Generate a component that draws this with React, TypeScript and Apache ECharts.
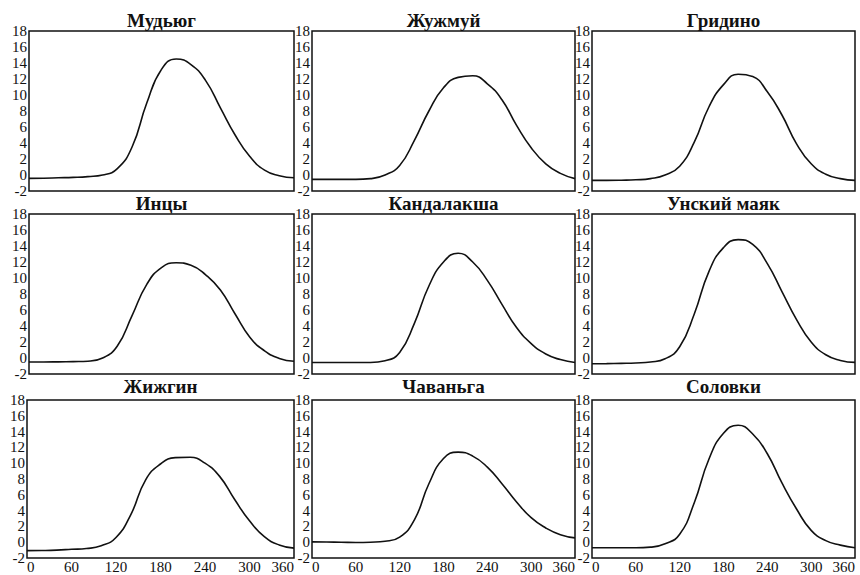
import React, { useEffect, useRef } from "react";
import * as echarts from "echarts";

const days = [0, 20, 40, 60, 80, 100, 120, 140, 160, 180, 200, 220, 240, 260, 280, 300, 320, 340, 360];

const stations = ["Мудьюг", "Жужмуй", "Гридино", "Инцы", "Кандалакша", "Унский маяк", "Жижгин", "Чаваньга", "Соловки"];

const mudyug = [-0.42, -0.4, -0.35, -0.3, -0.2, 0.0, 0.8, 3.5, 9.0, 13.2, 14.5, 13.8, 11.8, 8.4, 5.0, 2.3, 0.6, -0.1, -0.35];
const zhuzhmuy = [-0.55, -0.55, -0.55, -0.55, -0.45, 0.0, 1.2, 4.3, 8.0, 10.9, 12.2, 12.4, 11.4, 9.4, 6.2, 3.4, 1.4, 0.2, -0.45];
const gridino = [-0.67, -0.67, -0.65, -0.6, -0.45, 0.0, 1.1, 4.1, 8.5, 11.3, 12.6, 12.3, 10.4, 7.5, 3.9, 1.4, 0.1, -0.45, -0.67];
const intsy = [-0.5, -0.5, -0.48, -0.45, -0.4, 0.0, 1.5, 5.3, 9.2, 11.3, 11.9, 11.6, 10.4, 8.5, 5.5, 2.6, 0.9, -0.05, -0.4];
const kandalaksha = [-0.57, -0.57, -0.57, -0.57, -0.57, -0.35, 0.7, 4.3, 9.0, 12.0, 13.1, 12.0, 9.7, 6.7, 3.8, 1.8, 0.5, -0.2, -0.57];
const unskyMayak = [-0.72, -0.7, -0.67, -0.62, -0.5, -0.1, 1.4, 5.5, 10.8, 13.8, 14.8, 14.2, 11.8, 8.3, 4.8, 2.0, 0.4, -0.3, -0.55];
const zhizhgin = [-1.07, -1.05, -1.0, -0.9, -0.8, -0.45, 0.6, 3.5, 7.9, 9.9, 10.7, 10.75, 10.0, 8.3, 5.4, 2.7, 0.7, -0.35, -0.75];
const chavanga = [0.04, 0.02, 0.0, -0.04, 0.0, 0.12, 0.65, 2.8, 7.4, 10.6, 11.4, 10.9, 9.5, 7.4, 5.1, 3.1, 1.8, 0.95, 0.55];
const solovki = [-0.71, -0.71, -0.71, -0.71, -0.62, -0.2, 1.0, 5.0, 10.5, 13.8, 14.8, 13.7, 11.2, 7.5, 4.2, 1.5, 0.2, -0.37, -0.71];

const seriesValues = [mudyug, zhuzhmuy, gridino, intsy, kandalaksha, unskyMayak, zhizhgin, chavanga, solovki];

const xTicks = { min: 0, max: 360, interval: 60 };
const yTicks = { min: -2, max: 18, interval: 2 };

const FONT = "'Times New Roman', 'Liberation Serif', 'DejaVu Serif', serif";

const colLeft = [29, 312, 592];
const colWidth = [265, 263, 263];
const rowTop = [31, 214, 400];
const rowHeight = [160, 160, 158];
const titleSize = 19;
const titleCenterY = [20, 203, 386];

export default function App() {
  const ref = useRef<HTMLDivElement>(null);

  useEffect(() => {
    if (!ref.current) return;
    const chart = echarts.init(ref.current, null, { renderer: "svg" });

    const grids: any[] = [];
    const xAxes: any[] = [];
    const yAxes: any[] = [];
    const series: any[] = [];
    const titles: any[] = [];

    stations.forEach((name, i) => {
      const r = Math.floor(i / 3);
      const c = i % 3;
      let left = colLeft[c];
      let width = colWidth[c];
      if (r === 2 && c === 0) {
        left = 27;
        width = 267;
      }
      grids.push({
        left,
        top: rowTop[r],
        width,
        height: rowHeight[r],
        show: true,
        borderColor: "#111",
        borderWidth: 1.5,
        backgroundColor: "transparent",
        containLabel: false,
      });
      xAxes.push({
        type: "value",
        gridIndex: i,
        min: xTicks.min,
        max: xTicks.max,
        interval: xTicks.interval,
        axisLine: { show: false },
        axisTick: { show: false },
        splitLine: { show: false },
        axisLabel: {
          show: r === 2,
          color: "#111",
          fontFamily: FONT,
          fontSize: 15,
          margin: 1,
          showMinLabel: true,
          showMaxLabel: true,
          hideOverlap: false,
          alignMaxLabel: "right",
          alignMinLabel: "left",
        },
      });
      yAxes.push({
        type: "value",
        gridIndex: i,
        min: yTicks.min,
        max: yTicks.max,
        interval: yTicks.interval,
        axisLine: { show: false },
        axisTick: { show: false },
        splitLine: { show: false },
        axisLabel: {
          color: "#111",
          fontFamily: FONT,
          fontSize: 15,
          margin: 2,
          showMinLabel: true,
          showMaxLabel: true,
          hideOverlap: false,
          formatter: (v: number) => String(v),
        },
      });
      series.push({
        type: "line",
        name,
        xAxisIndex: i,
        yAxisIndex: i,
        data: days.map((d, k) => [d, seriesValues[i][k]]),
        smooth: 0.5,
        showSymbol: false,
        symbol: "none",
        lineStyle: { color: "#111", width: 1.6 },
      });
      titles.push({
        text: name,
        left: left + width / 2,
        top: titleCenterY[r] - titleSize / 2,
        padding: 0,
        textAlign: "center",
        textStyle: {
          fontFamily: FONT,
          fontSize: titleSize,
          fontWeight: "bold",
          color: "#111",
        },
      });
    });

    chart.setOption({
      animation: false,
      backgroundColor: "#fff",
      title: titles,
      grid: grids,
      xAxis: xAxes,
      yAxis: yAxes,
      series,
    });

    return () => chart.dispose();
  }, []);

  return (
    <div
      ref={ref}
      style={{ position: "absolute", left: 0, top: 0, width: 860, height: 575 }}
    />
  );
}
